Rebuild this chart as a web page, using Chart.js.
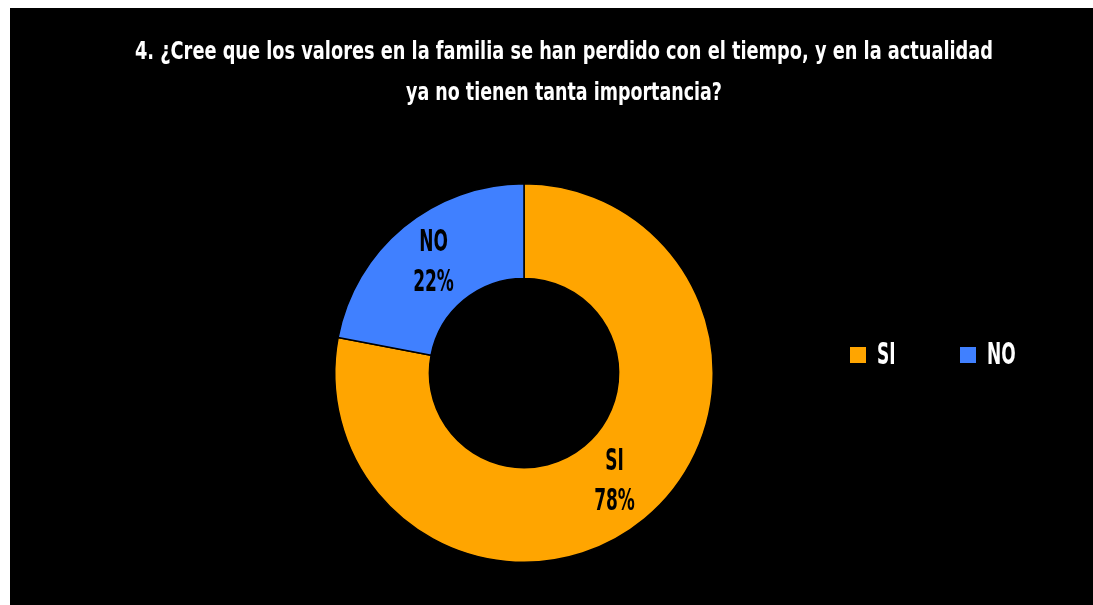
<!DOCTYPE html>
<html>
<head>
<meta charset="utf-8">
<title>Valores en la familia</title>
<script src="https://cdn.jsdelivr.net/npm/chart.js@4"></script>
<style>
  html, body { margin: 0; padding: 0; background: #fff; }
  #frame { position: absolute; left: 10px; top: 8px; width: 1083px; height: 597px; background: #000; }
</style>
</head>
<body>
<div id="frame"><canvas id="valoresChart" width="1083" height="597"></canvas></div>
<script>
const categories = ['SI', 'NO'];
const percentages = [78, 22];
const sliceColors = ['#FFA500', '#4080FF'];
const titleLines = [
  '4. ¿Cree que los valores en la familia se han perdido con el tiempo, y en la actualidad',
  'ya no tienen tanta importancia?',
];

const FONT = "'Liberation Sans Narrow', 'DejaVu Sans Condensed', sans-serif";
const SQUEEZE = 0.63;

// narrow lettering: draw text squeezed horizontally around its anchor
function narrowText(ctx, text, x, y) {
  ctx.save();
  ctx.translate(x, y);
  ctx.scale(SQUEEZE, 1);
  ctx.fillText(text, 0, 0);
  ctx.restore();
}

// title, legend and in-slice labels are painted on top of the doughnut
const overlay = {
  id: 'overlay',
  afterDraw(chart) {
    const ctx = chart.ctx;
    ctx.save();

    ctx.fillStyle = '#fff';
    ctx.font = `bold 25px ${FONT}`;
    ctx.textAlign = 'center';
    ctx.textBaseline = 'alphabetic';
    ctx.fillText(titleLines[0], 554, 51, 858);
    ctx.fillText(titleLines[1], 554, 92, 316);

    // slice labels: name above, percentage below
    const meta = chart.getDatasetMeta(0);
    ctx.fillStyle = '#000';
    ctx.font = `bold 30px ${FONT}`;
    ctx.textBaseline = 'middle';
    meta.data.forEach((arc, i) => {
      const p = arc.tooltipPosition();
      narrowText(ctx, categories[i], p.x, p.y - 20);
      narrowText(ctx, percentages[i] + '%', p.x, p.y + 20);
    });

    // legend, items side by side
    ctx.textAlign = 'left';
    let x = 840;
    const y = 347;
    categories.forEach((name, i) => {
      ctx.fillStyle = sliceColors[i];
      ctx.fillRect(x, y - 8, 16, 16);
      ctx.fillStyle = '#fff';
      narrowText(ctx, name, x + 27, y + 1);
      x += 110;
    });

    ctx.restore();
  },
};

new Chart(document.getElementById('valoresChart'), {
  type: 'doughnut',
  data: {
    labels: categories,
    datasets: [{
      data: percentages,
      backgroundColor: sliceColors,
      borderColor: '#000',
      borderWidth: 1.5,
    }],
  },
  options: {
    responsive: false,
    animation: false,
    cutout: '50%',
    layout: { padding: { top: 175, bottom: 42, left: 324, right: 379 } },
    plugins: {
      legend: { display: false },
      title: { display: false },
      tooltip: { enabled: false },
    },
  },
  plugins: [overlay],
});
</script>
</body>
</html>
